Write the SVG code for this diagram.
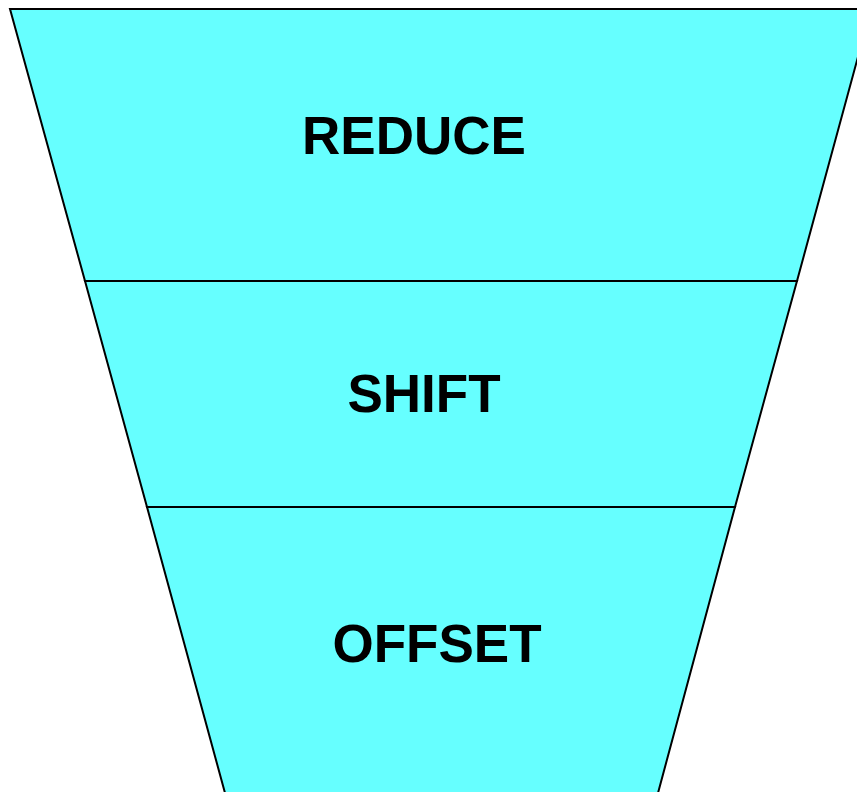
<svg xmlns="http://www.w3.org/2000/svg" width="857" height="792" viewBox="0 0 857 792">
<style>
.seg{fill:#66ffff;stroke:#000;stroke-width:2;stroke-linejoin:miter}
.lbl{font-family:"Liberation Sans",Arial,sans-serif;font-weight:bold;font-size:53px;fill:#000;text-anchor:middle}
</style>
<rect width="857" height="792" fill="#fff"/>
<g id="reduce">
<polygon class="seg" points="10,9 871,9 797,281 85,281"/>
<text class="lbl" x="414" y="154">REDUCE</text>
</g>
<g id="shift">
<polygon class="seg" points="85,281 797,281 735,507 147,507"/>
<text class="lbl" x="424" y="412">SHIFT</text>
</g>
<g id="offset">
<polygon class="seg" points="147,507 735,507 658,793 225,793"/>
<text class="lbl" x="437" y="662">OFFSET</text>
</g>
</svg>
